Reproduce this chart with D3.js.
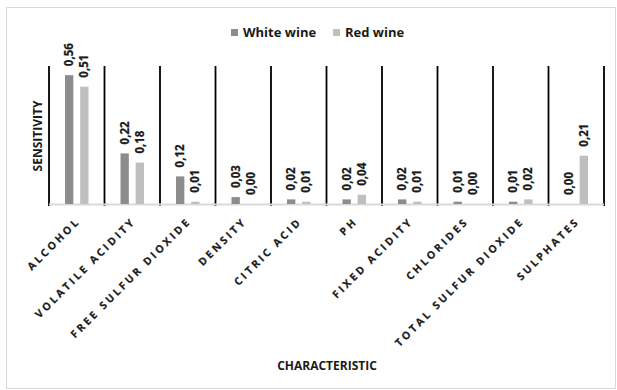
<!DOCTYPE html>
<html>
<head>
<meta charset="utf-8">
<script src="https://cdn.jsdelivr.net/npm/d3@7"></script>
<style>
  html, body { margin: 0; padding: 0; background: #fff; }
  svg text { font-family: "Open Sans", "Liberation Sans", sans-serif; font-weight: 700; fill: #1a1a1a; }
</style>
</head>
<body>
<svg id="chart" width="617" height="390"></svg>
<script>
// Sensitivity of wine quality to each physico-chemical characteristic
const categories = ["ALCOHOL", "VOLATILE ACIDITY", "FREE SULFUR DIOXIDE", "DENSITY", "CITRIC ACID",
                    "PH", "FIXED ACIDITY", "CHLORIDES", "TOTAL SULFUR DIOXIDE", "SULPHATES"];
const seriesNames = ["White wine", "Red wine"];
const whiteWine = [0.56, 0.22, 0.12, 0.03, 0.02, 0.02, 0.02, 0.01, 0.01, 0.00];
const redWine   = [0.51, 0.18, 0.01, 0.00, 0.01, 0.04, 0.01, 0.00, 0.02, 0.21];
const yDomain = [0, 0.6];

const colors = { "White wine": "#8c8c8c", "Red wine": "#bfbfbf" };
const rows = categories.map((c, i) => ({ category: c, "White wine": whiteWine[i], "Red wine": redWine[i] }));

const svg = d3.select("#chart");
const margin = { left: 49, right: 13, top: 66, bottom: 186 };
const W = 617, H = 390;
const plotW = W - margin.left - margin.right;
const plotH = H - margin.top - margin.bottom;

// outer frame
svg.append("rect")
  .attr("x", 6.5).attr("y", 7.5).attr("width", 609).attr("height", 381)
  .attr("fill", "none").attr("stroke", "#d9d9d9").attr("stroke-width", 1);

const g = svg.append("g").attr("transform", `translate(${margin.left},${margin.top})`);

const x0 = d3.scaleBand().domain(categories).range([0, plotW]).paddingInner(0).paddingOuter(0);
const x1 = d3.scaleBand().domain(seriesNames).range([16, x0.bandwidth() - 16]).paddingInner(0.45);
const y = d3.scaleLinear().domain(yDomain).range([plotH, 0]);

// category separators (black vertical lines at band edges)
const edges = categories.map(c => x0(c)).concat([plotW]);
g.selectAll("line.sep").data(edges).join("line")
  .attr("class", "sep")
  .attr("x1", d => d).attr("x2", d => d)
  .attr("y1", 0).attr("y2", plotH + 2)
  .attr("stroke", "#000").attr("stroke-width", 1.8);

// baseline
g.append("line")
  .attr("x1", 0).attr("x2", plotW)
  .attr("y1", plotH + 0.5).attr("y2", plotH + 0.5)
  .attr("stroke", "#d9d9d9").attr("stroke-width", 2);

// bars
const groups = g.selectAll("g.cat").data(rows).join("g")
  .attr("class", "cat")
  .attr("transform", d => `translate(${x0(d.category)},0)`);

groups.selectAll("rect").data(d => seriesNames.map(s => ({ s, v: d[s] }))).join("rect")
  .attr("x", d => x1(d.s))
  .attr("width", x1.bandwidth())
  .attr("y", d => y(d.v))
  .attr("height", d => plotH - y(d.v))
  .attr("fill", d => colors[d.s]);

// value labels, rotated, above each bar
const fmt = v => d3.format(".2f")(v).replace(".", ",");
groups.selectAll("text.val").data(d => seriesNames.map(s => ({ s, v: d[s] }))).join("text")
  .attr("class", "val")
  .attr("transform", d => `translate(${x1(d.s) + x1.bandwidth() / 2 + 4},${y(d.v) - 9}) rotate(-90)`)
  .attr("font-size", 11.5)
  .attr("stroke", "#1a1a1a").attr("stroke-width", 0.25)
  .text(d => fmt(d.v));

// category labels at -45°
g.selectAll("text.cat").data(categories).join("text")
  .attr("class", "cat")
  .attr("transform", d => `translate(${x0(d) + x0.bandwidth() / 2 + 4},${plotH + 18}) rotate(-45)`)
  .attr("text-anchor", "end")
  .attr("font-size", 10.5)
  .attr("letter-spacing", 2.7)
  .attr("stroke", "#1a1a1a").attr("stroke-width", 0.2)
  .text(d => d);

// axis titles
svg.append("text")
  .attr("transform", `translate(42,136) rotate(-90)`)
  .attr("text-anchor", "middle")
  .attr("font-size", 12)
  .text("SENSITIVITY");

svg.append("text")
  .attr("x", 327).attr("y", 370)
  .attr("text-anchor", "middle")
  .attr("font-size", 12)
  .text("CHARACTERISTIC");

// legend
const legendPos = [231, 333];
const legend = svg.selectAll("g.legend").data(seriesNames).join("g")
  .attr("class", "legend")
  .attr("transform", (d, i) => `translate(${legendPos[i]},29)`);
legend.append("rect").attr("width", 7).attr("height", 7).attr("fill", d => colors[d]);
legend.append("text").attr("x", 12).attr("y", 8).attr("font-size", 13).text(d => d);
</script>
</body>
</html>
